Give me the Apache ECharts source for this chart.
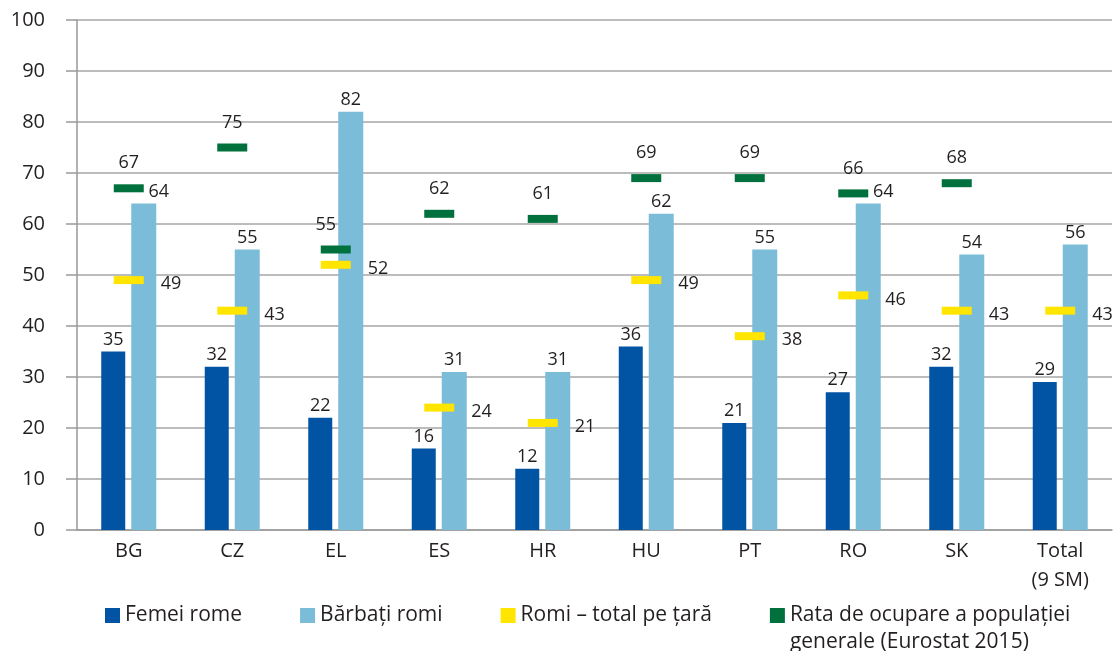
<!DOCTYPE html>
<html>
<head>
<meta charset="utf-8">
<script src="https://cdn.jsdelivr.net/npm/echarts@6/dist/echarts.min.js"></script>
<style>
    html, body { margin: 0; padding: 0; background: #fff; }
    #main { width: 1116px; height: 651px; }
</style>
</head>
<body>
<div id="main"></div>
<script>
var categories = ['BG', 'CZ', 'EL', 'ES', 'HR', 'HU', 'PT', 'RO', 'SK', 'Total\n(9 SM)'];
var femei = [35, 32, 22, 16, 12, 36, 21, 27, 32, 29];
var barbati = [64, 55, 82, 31, 31, 62, 55, 64, 54, 56];
var romiTotal = [49, 43, 52, 24, 21, 49, 38, 46, 43, 43];
var eurostat = [67, 75, 55, 62, 61, 69, 69, 66, 68, null];
var yTicks = [0, 100, 10];

// etichete mutate ca in original (suprapuneri)
var barbatiShift = {0: [15, 0], 7: [15, 0]};
var eurostatShift = {2: [-10, 0]};

var font = 'Open Sans';
var txt = '#231f20';
var numeRata = 'Rata de ocupare a populației\ngenerale (Eurostat 2015)';

function withShift(values, shift) {
    return values.map(function (v, i) {
        if (shift[i]) {
            return {value: v, label: {offset: shift[i]}};
        }
        return v;
    });
}

function lbl(extra) {
    var o = {show: true, fontSize: 18, fontWeight: 'normal', color: txt, fontFamily: font};
    for (var k in extra) o[k] = extra[k];
    return o;
}

var myChart = echarts.init(document.getElementById('main'));

var option = {
    animation: false,
    textStyle: {fontFamily: font},
    grid: {
        left: 77,
        right: 4,
        top: 20,
        bottom: 121,
        outerBoundsMode: 'none'
    },
    legend: {
        left: 100,
        top: 570,
        itemGap: 58,
        itemWidth: 15,
        itemHeight: 15,
        textStyle: {
            fontFamily: font, fontSize: 21, color: txt, lineHeight: 27,
            rich: {
                s: {fontSize: 21, lineHeight: 27},
                t: {fontFamily: font, fontSize: 21, color: txt, lineHeight: 27}
            }
        },
        // icoana aliniata cu primul rand al textului pe doua randuri
        formatter: function (name) {
            if (name.indexOf('\n') < 0) return name;
            var parts = name.split('\n');
            return '{s| }\n{t|' + parts[0] + '}\n{t|' + parts[1] + '}';
        },
        data: [
            {name: 'Femei rome', icon: 'rect'},
            {name: 'Bărbați romi', icon: 'rect'},
            {name: 'Romi – total pe țară', icon: 'rect', itemWidth: 22, itemHeight: 7},
            {name: numeRata, icon: 'rect', itemWidth: 22, itemHeight: 7}
        ]
    },
    xAxis: {
        type: 'category',
        data: categories,
        axisLine: {lineStyle: {color: '#999', width: 1.5}},
        axisTick: {show: false},
        axisLabel: {fontFamily: font, fontSize: 20, color: txt, margin: 7, lineHeight: 29}
    },
    yAxis: {
        type: 'value',
        min: yTicks[0],
        max: yTicks[1],
        interval: yTicks[2],
        axisLine: {show: true, lineStyle: {color: '#999', width: 1.5}},
        axisTick: {show: true, length: 11, lineStyle: {color: '#999', width: 1.5}},
        splitLine: {lineStyle: {color: '#a6a6a6', width: 1.5}},
        axisLabel: {fontFamily: font, fontSize: 20, color: txt, margin: 32}
    },
    series: [
        {
            name: 'Femei rome',
            type: 'bar',
            data: femei,
            barWidth: 24,
            barGap: '25%',
            itemStyle: {color: '#0054a3'},
            label: lbl({position: 'top', distance: 3})
        },
        {
            name: 'Bărbați romi',
            type: 'bar',
            data: withShift(barbati, barbatiShift),
            barWidth: 25,
            itemStyle: {color: '#7bbcd8'},
            label: lbl({position: 'top', distance: 3})
        },
        {
            name: 'Romi – total pe țară',
            type: 'scatter',
            data: romiTotal,
            symbol: 'rect',
            symbolSize: [30, 8],
            z: 5,
            itemStyle: {color: '#ffe500', opacity: 1},
            label: lbl({position: 'right', distance: 17, offset: [0, 4]})
        },
        {
            name: numeRata,
            type: 'scatter',
            data: withShift(eurostat, eurostatShift),
            symbol: 'rect',
            symbolSize: [30, 8],
            z: 5,
            itemStyle: {color: '#00703c', opacity: 1},
            label: lbl({position: 'top', distance: 12})
        }
    ]
};

myChart.setOption(option);
window.onresize = myChart.resize;
</script>
</body>
</html>
